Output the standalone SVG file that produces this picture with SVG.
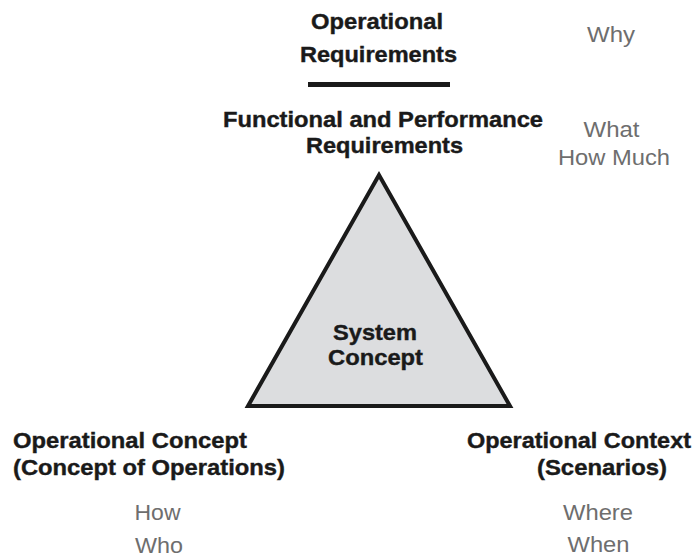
<svg xmlns="http://www.w3.org/2000/svg" width="697" height="559" viewBox="0 0 697 559">
<style>
.b{font-family:"Liberation Sans",Arial,sans-serif;font-weight:bold;font-size:22px;fill:#1a1a1a;stroke:#1a1a1a;stroke-width:0.4px}
.g{font-family:"Liberation Sans",Arial,sans-serif;font-size:22px;fill:#6e6e6e}
.m{text-anchor:middle}
</style>
<rect width="697" height="559" fill="#ffffff"/>
<g id="divider">
<line x1="308" y1="84.5" x2="450" y2="84.5" stroke="#1a1a1a" stroke-width="5"/>
</g>
<g id="operational-requirements">
<text class="b m" x="377" y="29" textLength="132" lengthAdjust="spacingAndGlyphs">Operational</text>
<text class="b m" x="378.5" y="62" textLength="157" lengthAdjust="spacingAndGlyphs">Requirements</text>
<text class="g m" x="611" y="42" textLength="48" lengthAdjust="spacingAndGlyphs">Why</text>
</g>
<g id="functional-requirements">
<text class="b m" x="383" y="127" textLength="320" lengthAdjust="spacingAndGlyphs">Functional and Performance</text>
<text class="b m" x="384.5" y="153" textLength="157" lengthAdjust="spacingAndGlyphs">Requirements</text>
<text class="g m" x="611.5" y="137" textLength="56" lengthAdjust="spacingAndGlyphs">What</text>
<text class="g m" x="614" y="165" textLength="112" lengthAdjust="spacingAndGlyphs">How Much</text>
</g>
<g id="system-concept">
<polygon points="379,175 248,406 510,406" fill="#dcdddf" stroke="#1a1a1a" stroke-width="4" stroke-linejoin="miter"/>
<text class="b m" x="375" y="340" textLength="84" lengthAdjust="spacingAndGlyphs">System</text>
<text class="b m" x="375.5" y="365" textLength="95" lengthAdjust="spacingAndGlyphs">Concept</text>
</g>
<g id="operational-concept">
<text class="b" x="13" y="448" textLength="234" lengthAdjust="spacingAndGlyphs">Operational Concept</text>
<text class="b" x="13" y="475" textLength="272" lengthAdjust="spacingAndGlyphs">(Concept of Operations)</text>
<text class="g m" x="157.5" y="520" textLength="46" lengthAdjust="spacingAndGlyphs">How</text>
<text class="g m" x="159" y="553" textLength="48" lengthAdjust="spacingAndGlyphs">Who</text>
</g>
<g id="operational-context">
<text class="b" x="467" y="448" textLength="224" lengthAdjust="spacingAndGlyphs">Operational Context</text>
<text class="b m" x="602" y="475" textLength="130" lengthAdjust="spacingAndGlyphs">(Scenarios)</text>
<text class="g m" x="598" y="520" textLength="70" lengthAdjust="spacingAndGlyphs">Where</text>
<text class="g m" x="598.5" y="552" textLength="62" lengthAdjust="spacingAndGlyphs">When</text>
</g>
</svg>
